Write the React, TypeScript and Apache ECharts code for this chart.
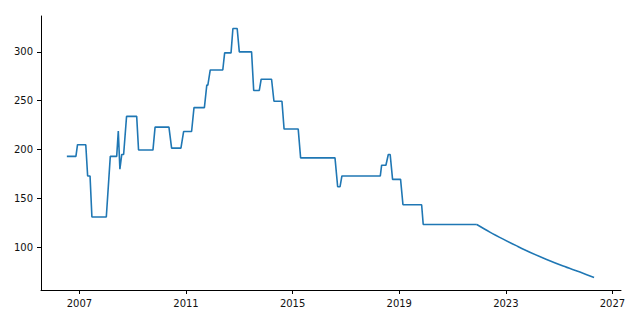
import React, { useEffect, useRef } from "react";
import * as echarts from "echarts";

const years = [
  2006.53, 2006.87, 2006.93, 2007.24, 2007.31, 2007.4, 2007.47, 2008.01, 2008.16,
  2008.4, 2008.46, 2008.52, 2008.59, 2008.66, 2008.77, 2009.15, 2009.22, 2009.76,
  2009.84, 2010.36, 2010.46, 2010.81, 2010.91, 2011.21, 2011.3, 2011.69, 2011.78,
  2011.82, 2011.91, 2012.38, 2012.45, 2012.69, 2012.76, 2012.92, 2013.0, 2013.46,
  2013.54, 2013.75, 2013.82, 2014.21, 2014.3, 2014.6, 2014.68, 2015.21, 2015.3,
  2016.59, 2016.69, 2016.78, 2016.85, 2018.29, 2018.34, 2018.5, 2018.59, 2018.66,
  2018.75, 2019.05, 2019.14, 2019.84, 2019.9, 2021.91,
];

const values = [
  193, 193, 205, 205, 173, 173, 131, 131, 193,
  193, 219, 180, 195, 195, 234, 234, 199.5, 199.5,
  223, 223, 201.5, 201.5, 218.5, 218.5, 243, 243, 266,
  266, 281.5, 281.5, 299, 299, 324, 324, 300, 300,
  260.5, 260.5, 272, 272, 249.5, 249.5, 221, 221, 191.5,
  191.5, 162, 162, 173, 173, 184, 184, 195, 195,
  169.5, 169.5, 143.5, 143.5, 123.3, 123.3,
];

// forecast tail (smooth decay), starting at the last step point
const tailYears = [2021.91, 2022.4, 2022.9, 2023.41, 2023.9, 2024.53, 2025.15, 2025.78, 2026.31];
const tailValues = [123.3, 115.5, 108.3, 101.4, 95.0, 87.5, 80.8, 74.6, 69.1];

const xTicks = [2007, 2011, 2015, 2019, 2023, 2027];
const yTicks = [100, 150, 200, 250, 300];

export default function App() {
  const ref = useRef<HTMLDivElement>(null);
  useEffect(() => {
    if (!ref.current) return;
    const chart = echarts.init(ref.current, null, { renderer: "svg" });
    const font = "DejaVu Sans";
    const line = { color: "#1f77b4", width: 1.6 };
    chart.setOption({
      animation: false,
      backgroundColor: "#ffffff",
      grid: { left: 41, right: 19, top: 16, bottom: 30, containLabel: false },
      xAxis: {
        type: "value",
        min: 2005.56,
        max: 2027.32,
        splitLine: { show: false },
        axisLine: { show: true, onZero: false, lineStyle: { color: "#000", width: 1 } },
        axisTick: { show: true, length: 4, lineStyle: { color: "#000", width: 1 }, customValues: xTicks },
        axisLabel: {
          color: "#111",
          fontFamily: font,
          fontSize: 10,
          margin: 8,
          customValues: xTicks,
          formatter: (v: number) => String(Math.round(v)),
        },
      },
      yAxis: {
        type: "value",
        min: 56.25,
        max: 336.75,
        splitLine: { show: false },
        axisLine: { show: true, onZero: false, lineStyle: { color: "#000", width: 1 } },
        axisTick: { show: true, length: 4, lineStyle: { color: "#000", width: 1 }, customValues: yTicks },
        axisLabel: {
          color: "#111",
          fontFamily: font,
          fontSize: 10,
          margin: 8,
          customValues: yTicks,
          formatter: (v: number) => String(Math.round(v)),
        },
      },
      series: [
        {
          type: "line",
          data: years.map((y, i) => [y, values[i]]),
          showSymbol: false,
          symbol: "none",
          lineStyle: line,
          itemStyle: { color: "#1f77b4" },
        },
        {
          type: "line",
          data: tailYears.map((y, i) => [y, tailValues[i]]),
          showSymbol: false,
          symbol: "none",
          smooth: 0.3,
          lineStyle: line,
          itemStyle: { color: "#1f77b4" },
        },
      ],
    });
    return () => chart.dispose();
  }, []);
  return (
    <div
      ref={ref}
      style={{ position: "fixed", left: 0, top: 0, width: 640, height: 320, background: "#fff" }}
    />
  );
}
